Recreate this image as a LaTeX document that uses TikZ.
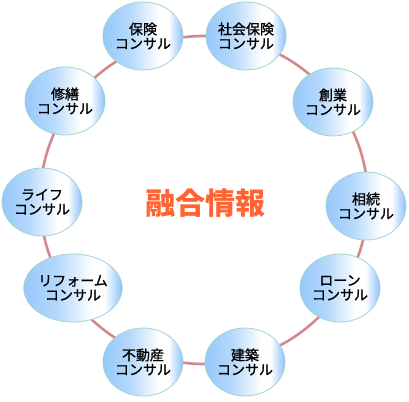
\documentclass[tikz,border=0pt]{standalone}
\usepackage{fontspec}
\setmainfont{Noto Sans CJK JP}
\newfontfamily\bubfont[FakeBold=1.2]{Noto Sans CJK JP}
\usetikzlibrary{shapes.geometric,backgrounds}
\definecolor{ringline}{RGB}{212,136,140}
\definecolor{bubedge}{RGB}{160,212,206}
\definecolor{bubblue}{RGB}{150,200,250}
\definecolor{bubside}{RGB}{140,192,252}
\definecolor{hubtext}{RGB}{255,100,50}
\pgfdeclarehorizontalshading{bubble}{100bp}{color(0bp)=(bubblue); color(25bp)=(bubblue); color(42bp)=(bubblue!70!white); color(60bp)=(white); color(66bp)=(white); color(75bp)=(bubside); color(100bp)=(bubside)}

\begin{document}
\begin{tikzpicture}[x=1pt, y=-1pt,
  bub/.style={ellipse, draw=bubedge, line width=0.8pt, shading=bubble, minimum width=80pt, minimum height=68pt, inner sep=0pt, align=center, font=\bubfont\fontsize{14}{14.5}\selectfont},
  ring/.style={draw=ringline, line width=2.6pt},
  hub/.style={text=hubtext, font=\fontsize{30}{34}\selectfont\bfseries}]
\useasboundingbox (0,0) rectangle (409,401);
\coordinate (mid) at (204,200);
\node[hub] (core) at (205,203) {融合情報};
\node[bub] (hoken) at (143,36) {保険\\コンサル};
\node[bub] (shakai) at (246,36) {社会保険\\コンサル};
\node[bub] (sogyo) at (333,102) {創業\\コンサル};
\node[bub] (sozoku) at (366,206) {相続\\コンサル};
\node[bub] (loan) at (340,288) {ローン\\コンサル};
\node[bub] (kenchiku) at (245,362) {建築\\コンサル};
\node[bub] (fudosan) at (143,362) {不動産\\コンサル};
\node[bub] (reform) at (73,288) {リフォーム\\コンサル};
\node[bub] (life) at (42,202) {ライフ\\コンサル};
\node[bub] (shuzen) at (65,101) {修繕\\コンサル};
\begin{scope}[on background layer]
\draw[ring] (mid) circle[radius=164];
\end{scope}
\end{tikzpicture}
\end{document}
